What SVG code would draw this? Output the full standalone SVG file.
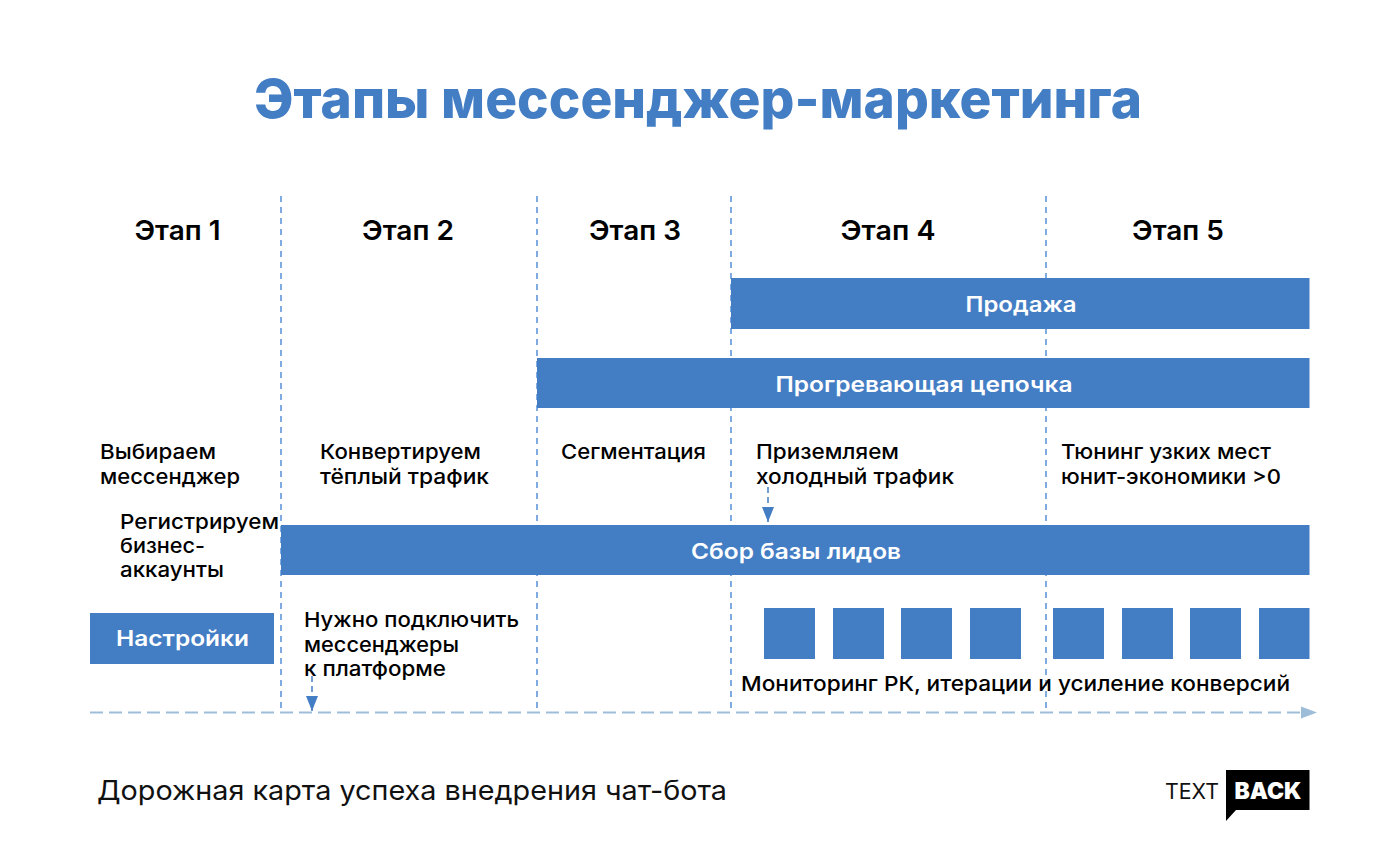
<svg xmlns="http://www.w3.org/2000/svg" width="1400" height="865" viewBox="0 0 1400 865">
<defs>
<marker id="a1" markerUnits="userSpaceOnUse" markerWidth="16" markerHeight="12" refX="15" refY="6" orient="auto" viewBox="0 0 16 12"><path d="M0 0L15 6L0 12Z" fill="#437dc4"/></marker>
</defs>
<style>
text{font-family:Inter,"Noto Sans","Liberation Sans",sans-serif}
.h{font-size:27px;font-weight:600;fill:#000;text-anchor:middle}
.t{font-size:20.5px;font-weight:500;fill:#000}
.b{font-size:21.5px;font-weight:600;fill:#fff;text-anchor:middle}
.r{fill:#437dc4}
.v{stroke:#5590d6;stroke-width:1.5;stroke-dasharray:6 5;fill:none}
</style>
<rect width="1400" height="865" fill="#fff"/>
<text x="698" y="118" text-anchor="middle" font-size="54" font-weight="800" fill="#437dc4" textLength="888" lengthAdjust="spacingAndGlyphs">Этапы мессенджер-маркетинга</text>
<g id="connectors">
<path class="v" d="M281 196V712"/>
<path class="v" d="M537 196V712"/>
<path class="v" d="M731 196V712"/>
<path class="v" d="M1046 196V712"/>
<path d="M90 712.500H1303" stroke="#9dbdd9" stroke-width="2" stroke-dasharray="13 6" fill="none"/>
<path d="M1301 706.500L1317 712.500L1301 718.500Z" fill="#9dbdd9"/>
<path d="M312 676V711" stroke="#437dc4" stroke-width="1.500" stroke-dasharray="6 4" marker-end="url(#a1)" fill="none"/>
<path d="M768 487V522" stroke="#437dc4" stroke-width="1.500" stroke-dasharray="6 4" marker-end="url(#a1)" fill="none"/>
</g>
<g id="stage1"><text class="h" x="177.500" y="240" textLength="86" lengthAdjust="spacingAndGlyphs">Этап 1</text></g>
<g id="stage2"><text class="h" x="408" y="240" textLength="92" lengthAdjust="spacingAndGlyphs">Этап 2</text></g>
<g id="stage3"><text class="h" x="635" y="240" textLength="92" lengthAdjust="spacingAndGlyphs">Этап 3</text></g>
<g id="stage4"><text class="h" x="888" y="240" textLength="95" lengthAdjust="spacingAndGlyphs">Этап 4</text></g>
<g id="stage5"><text class="h" x="1178" y="240" textLength="92" lengthAdjust="spacingAndGlyphs">Этап 5</text></g>
<g id="sale"><rect class="r" x="731" y="278" width="578.500" height="51"/><text class="b" x="1021" y="312" textLength="111" lengthAdjust="spacingAndGlyphs">Продажа</text></g>
<g id="warm"><rect class="r" x="537" y="358" width="772.500" height="50"/><text class="b" x="924" y="392" textLength="297" lengthAdjust="spacingAndGlyphs">Прогревающая цепочка</text></g>
<g id="leads"><rect class="r" x="281" y="525" width="1028.500" height="50"/><text class="b" x="796" y="559" textLength="210" lengthAdjust="spacingAndGlyphs">Сбор базы лидов</text></g>
<g id="settings"><rect class="r" x="90" y="613" width="184" height="51"/><text class="b" x="182.500" y="646" textLength="133" lengthAdjust="spacingAndGlyphs">Настройки</text></g>
<g id="note1"><text class="t" x="100" y="459" textLength="116" lengthAdjust="spacingAndGlyphs">Выбираем</text><text class="t" x="100" y="484" textLength="140" lengthAdjust="spacingAndGlyphs">мессенджер</text></g>
<g id="note2"><text class="t" x="120" y="529" textLength="159" lengthAdjust="spacingAndGlyphs">Регистрируем</text><text class="t" x="120" y="553" textLength="85" lengthAdjust="spacingAndGlyphs">бизнес-</text><text class="t" x="120" y="577" textLength="104" lengthAdjust="spacingAndGlyphs">аккаунты</text></g>
<g id="note3"><text class="t" x="320" y="459" textLength="161" lengthAdjust="spacingAndGlyphs">Конвертируем</text><text class="t" x="320" y="484" textLength="169" lengthAdjust="spacingAndGlyphs">тёплый трафик</text></g>
<g id="note4"><text class="t" x="561" y="459" textLength="145" lengthAdjust="spacingAndGlyphs">Сегментация</text></g>
<g id="note5"><text class="t" x="756" y="459" textLength="143" lengthAdjust="spacingAndGlyphs">Приземляем</text><text class="t" x="756" y="484" textLength="198" lengthAdjust="spacingAndGlyphs">холодный трафик</text></g>
<g id="note6"><text class="t" x="1061" y="459" textLength="210" lengthAdjust="spacingAndGlyphs">Тюнинг узких мест</text><text class="t" x="1061" y="484" textLength="220" lengthAdjust="spacingAndGlyphs">юнит-экономики &gt;0</text></g>
<g id="note7"><text class="t" x="304" y="627" textLength="215" lengthAdjust="spacingAndGlyphs">Нужно подключить</text><text class="t" x="304" y="652" textLength="155" lengthAdjust="spacingAndGlyphs">мессенджеры</text><text class="t" x="304" y="676" textLength="142" lengthAdjust="spacingAndGlyphs">к платформе</text></g>
<g id="squares"><rect class="r" x="764" y="608" width="51" height="51"/><rect class="r" x="833" y="608" width="51" height="51"/><rect class="r" x="901" y="608" width="51" height="51"/><rect class="r" x="970" y="608" width="51" height="51"/><rect class="r" x="1053" y="608" width="51" height="51"/><rect class="r" x="1122" y="608" width="51" height="51"/><rect class="r" x="1190" y="608" width="51" height="51"/><rect class="r" x="1259" y="608" width="50.500" height="51"/></g>
<g id="monitor"><text class="t" x="741" y="691" textLength="549" lengthAdjust="spacingAndGlyphs">Мониторинг РК, итерации и усиление конверсий</text></g>
<g id="footer"><text x="97" y="800" font-size="27" font-weight="400" fill="#111" textLength="630" lengthAdjust="spacingAndGlyphs">Дорожная карта успеха внедрения чат-бота</text></g>
<g id="logo"><text x="1165" y="799" font-size="21" font-weight="400" fill="#111" textLength="54" lengthAdjust="spacingAndGlyphs">TEXT</text><path d="M1226 770H1309.500V810H1236L1226 821Z" fill="#000"/><text x="1268" y="799" text-anchor="middle" font-size="23" font-weight="900" fill="#fff" textLength="67" lengthAdjust="spacingAndGlyphs">BACK</text></g>
</svg>
